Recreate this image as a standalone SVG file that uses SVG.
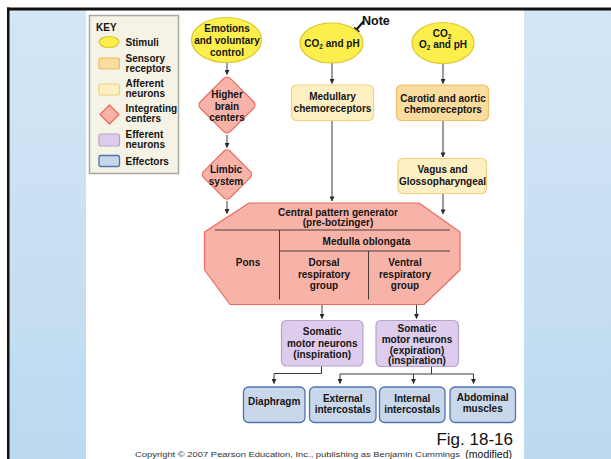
<svg xmlns="http://www.w3.org/2000/svg" width="611" height="459" viewBox="0 0 611 459">
<style>
.t{font-family:"Liberation Sans",Arial,Helvetica,sans-serif;font-weight:bold;font-size:10px;fill:#141414;text-anchor:middle}
.k{font-family:"Liberation Sans",Arial,Helvetica,sans-serif;font-weight:bold;font-size:10px;fill:#141414}
.stim{fill:#fcef4c;stroke:#dcc62e;stroke-width:1.2}
.sens{fill:#f9dc9e;stroke:#ecbf62;stroke-width:1.2}
.aff{fill:#fdefc2;stroke:#efd27c;stroke-width:1.2}
.integ{fill:#f8b3a9;stroke:#ea6b60;stroke-width:1.2}
.eff{fill:#ddcceb;stroke:#b8a2ce;stroke-width:1.2}
.effect{fill:#c9d7eb;stroke:#5073b2;stroke-width:1.3}
.c{fill:none;stroke:#3a3a3a;stroke-width:1}
</style>
<defs>
<marker id="ah" viewBox="0 0 6 6" refX="5.5" refY="3" markerWidth="5" markerHeight="5" orient="auto" markerUnits="userSpaceOnUse">
<path d="M0,0 L6,3 L0,6 Z" fill="#2a2a2a"/>
</marker>
<linearGradient id="bg" x1="0" y1="0" x2="0" y2="1">
<stop offset="0" stop-color="#d3e6f5"/>
<stop offset="0.5" stop-color="#c9e0f3"/>
<stop offset="1" stop-color="#bcd9ef"/>
</linearGradient>
</defs>

<!-- background and frame -->
<rect x="0" y="0" width="611" height="459" fill="#ffffff"/>
<rect x="9" y="10" width="602" height="449" fill="url(#bg)"/>
<rect x="86" y="10" width="438" height="449" fill="#ffffff"/>
<rect x="7" y="7.5" width="604" height="3" fill="#111"/>
<rect x="7" y="7.5" width="2.5" height="452" fill="#111"/>

<!-- key -->
<g id="key">
<rect x="89.5" y="15.5" width="89" height="158" fill="#f5f2e6" stroke="#a9a79f" stroke-width="1.5"/>
<text class="k" x="96" y="30.5" font-size="10.5" font-weight="900">KEY</text>
<ellipse class="stim" cx="109" cy="42" rx="10" ry="5.5"/>
<text class="k" x="125.5" y="45.7">Stimuli</text>
<rect class="sens" x="99" y="58" width="20.5" height="11" rx="2"/>
<text class="k" x="125.5" y="62">Sensory</text>
<text class="k" x="125.5" y="72">receptors</text>
<rect class="aff" x="99" y="84" width="20.5" height="11" rx="2"/>
<text class="k" x="125.5" y="87">Afferent</text>
<text class="k" x="125.5" y="97">neurons</text>
<path class="integ" d="M109.5,105 L119,114.5 L109.5,124 L100,114.5 Z" stroke-linejoin="round"/>
<text class="k" x="125.5" y="112">Integrating</text>
<text class="k" x="125.5" y="121.5">centers</text>
<rect class="eff" x="99" y="134" width="20.5" height="12" rx="2"/>
<text class="k" x="125.5" y="137.5">Efferent</text>
<text class="k" x="125.5" y="147.5">neurons</text>
<rect class="effect" x="99" y="155.5" width="20.5" height="11" rx="2"/>
<text class="k" x="125.5" y="164.5">Effectors</text>
</g>

<!-- connectors -->
<g id="connectors">
<path class="c" d="M227,63 V74.5" marker-end="url(#ah)"/>
<path class="c" d="M227,135 V147.5" marker-end="url(#ah)"/>
<path class="c" d="M227,201 V213.5" marker-end="url(#ah)"/>
<path class="c" d="M332,63 V83.5" marker-end="url(#ah)"/>
<path class="c" d="M332,120 V201" marker-end="url(#ah)"/>
<path class="c" d="M443,63 V83.5" marker-end="url(#ah)"/>
<path class="c" d="M443,120 V157" marker-end="url(#ah)"/>
<path class="c" d="M443,193 V214" marker-end="url(#ah)"/>
<path class="c" d="M322,304 V318.5" marker-end="url(#ah)"/>
<path class="c" d="M416.5,304 V318.5" marker-end="url(#ah)"/>
<path class="c" d="M321.5,366 V373.5 H274 V383.5" marker-end="url(#ah)"/>
<path class="c" d="M431.5,366.5 V374 H340 V383.5" marker-end="url(#ah)"/>
<path class="c" d="M413.5,374 V383.5" marker-end="url(#ah)"/>
<path class="c" d="M431.5,374 H473.5 V383.5" marker-end="url(#ah)"/>
</g>

<!-- note -->
<g id="note">
<text x="362" y="25" font-family="Liberation Sans,Arial,sans-serif" font-weight="bold" font-size="12.5" fill="#111">Note</text>
<path d="M364,21 L356,30" stroke="#111" stroke-width="2" fill="none"/>
<path d="M352.5,35 L354.5,26.5 L360,31.5 Z" fill="#111"/>
</g>

<!-- stimuli -->
<g id="emotions">
<ellipse class="stim" cx="226.5" cy="40" rx="35" ry="22.5"/>
<text class="t" x="227" y="32">Emotions</text>
<text class="t" x="227" y="44">and voluntary</text>
<text class="t" x="227" y="56">control</text>
</g>
<g id="co2ph">
<ellipse class="stim" cx="331.5" cy="43" rx="31.5" ry="20"/>
<text class="t" x="332" y="46.5">CO<tspan font-size="6.5" dy="2">2</tspan><tspan dy="-2"> and pH</tspan></text>
</g>
<g id="co2o2ph">
<ellipse class="stim" cx="443" cy="43" rx="31" ry="20.5"/>
<text class="t" x="442" y="37">CO<tspan font-size="6.5" dy="2">2</tspan></text>
<text class="t" x="443" y="48">O<tspan font-size="6.5" dy="2">2</tspan><tspan dy="-2"> and pH</tspan></text>
</g>

<!-- integrating -->
<g id="higher-brain">
<rect class="integ" x="-21.2" y="-21.2" width="42.4" height="42.4" rx="5" transform="translate(227,105) rotate(45)"/>
<text class="t" x="227" y="98">Higher</text>
<text class="t" x="227" y="109.5">brain</text>
<text class="t" x="227" y="121">centers</text>
</g>
<g id="limbic">
<rect class="integ" x="-18.7" y="-18.7" width="37.4" height="37.4" rx="4.5" transform="translate(227,174.5) rotate(45)"/>
<text class="t" x="226" y="173">Limbic</text>
<text class="t" x="226" y="185">system</text>
</g>

<!-- receptors / afferents -->
<g id="medullary">
<rect class="aff" x="291.5" y="85" width="82" height="35.5" rx="5" fill="#fbebbc"/>
<text class="t" x="332.5" y="100">Medullary</text>
<text class="t" x="332.5" y="111.5">chemoreceptors</text>
</g>
<g id="carotid">
<rect class="sens" x="396.5" y="85" width="92" height="35.5" rx="5"/>
<text class="t" x="443" y="101.5">Carotid and aortic</text>
<text class="t" x="443" y="112.5">chemoreceptors</text>
</g>
<g id="vagus">
<rect class="aff" x="398" y="158.5" width="88.5" height="35" rx="5"/>
<text class="t" x="442.5" y="173">Vagus and</text>
<text class="t" x="442.5" y="184.5" font-size="9.8">Glossopharyngeal</text>
</g>

<!-- central pattern generator -->
<g id="cpg">
<path class="integ" stroke-linejoin="round" d="M249,203 H419 L460,232 V270 L424,304.5 H230 L204.5,270 V232 Z"/>
<path fill="none" stroke="#4a3a38" stroke-width="1" d="M215,230 H450 M279.5,230 V299.5 M279.5,251 H450 M368.5,251 V299.5"/>
<text class="t" x="338" y="215.5">Central pattern generator</text>
<text class="t" x="338" y="226">(pre-botzinger)</text>
<text class="t" x="366.5" y="244.5">Medulla oblongata</text>
<text class="t" x="248" y="266">Pons</text>
<text class="t" x="324" y="266">Dorsal</text>
<text class="t" x="324" y="277.5">respiratory</text>
<text class="t" x="324" y="289">group</text>
<text class="t" x="405" y="266">Ventral</text>
<text class="t" x="405" y="277.5">respiratory</text>
<text class="t" x="405" y="289">group</text>
</g>

<!-- efferents -->
<g id="somatic-insp">
<rect class="eff" x="281.5" y="320.5" width="81.5" height="45.5" rx="5"/>
<text class="t" x="322.2" y="335">Somatic</text>
<text class="t" x="322.2" y="346.5">motor neurons</text>
<text class="t" x="322.2" y="357.5">(inspiration)</text>
</g>
<g id="somatic-exp">
<rect class="eff" x="376" y="320.5" width="82.5" height="46" rx="5"/>
<text class="t" x="417" y="332">Somatic</text>
<text class="t" x="417" y="343">motor neurons</text>
<text class="t" x="417" y="353.5">(expiration)</text>
<text class="t" x="417" y="364">(inspiration)</text>
</g>

<!-- effectors -->
<g id="diaphragm">
<rect class="effect" x="243.5" y="387" width="61.5" height="35.5" rx="5"/>
<text class="t" x="274.2" y="404.5">Diaphragm</text>
</g>
<g id="external">
<rect class="effect" x="309.5" y="387" width="66.5" height="35.5" rx="5"/>
<text class="t" x="342.7" y="401.5">External</text>
<text class="t" x="342.7" y="412.8">intercostals</text>
</g>
<g id="internal">
<rect class="effect" x="379.5" y="387" width="65.5" height="35.5" rx="5"/>
<text class="t" x="412.2" y="401.5">Internal</text>
<text class="t" x="412.2" y="412.8">intercostals</text>
</g>
<g id="abdominal">
<rect class="effect" x="450" y="387" width="65.5" height="35.5" rx="5"/>
<text class="t" x="482.7" y="400.5">Abdominal</text>
<text class="t" x="482.7" y="411.8">muscles</text>
</g>

<!-- captions -->
<text x="513" y="444.5" font-family="Liberation Sans,Arial,sans-serif" font-size="17" fill="#111" text-anchor="end">Fig. 18-16</text>
<text x="512" y="458.3" font-family="Liberation Sans,Arial,sans-serif" font-size="10.5" fill="#111" text-anchor="end">(modified)</text>
<text x="135" y="457" font-family="Liberation Sans,Arial,sans-serif" font-size="7.5" fill="#333" textLength="325" lengthAdjust="spacingAndGlyphs">Copyright © 2007 Pearson Education, Inc., publishing as Benjamin Cummings</text>
</svg>
